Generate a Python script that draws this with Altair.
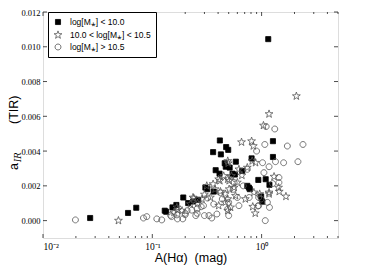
import altair as alt
import pandas as pd

# log[M*] < 10.0  (filled squares)
sq_x = [0.027, 0.060, 0.0713, 0.130, 0.134, 0.153, 0.166, 0.192, 0.213, 0.236, 0.263,
        0.306, 0.318, 0.365, 0.412, 0.36, 0.415, 0.424, 0.474, 0.495, 0.581, 0.47,
        0.542, 0.569, 0.81, 0.933, 1.18, 1.015, 0.765, 0.78, 1.27, 1.27, 1.15,
        0.46, 0.38, 0.51, 0.665, 0.74, 1.09, 0.99]
sq_y = [0.00015, 0.00044, 0.00074, 0.00057, 0.00051, 0.00076, 0.0009, 0.00133, 0.00101, 0.0011, 0.0012,
        0.0019, 0.00181, 0.00167, 0.0027, 0.00394, 0.00461, 0.00381, 0.00423, 0.00407, 0.00339, 0.0031,
        0.0027, 0.00265, 0.00358, 0.00234, 0.00206, 0.00109, 0.0019, 0.00181, 0.00457, 0.00366, 0.01044,
        0.0033, 0.0029, 0.00305, 0.00286, 0.0020, 0.00238, 0.00139]

# 10.0 < log[M*] < 10.5  (open stars)
st_x = [0.049, 2.08, 1.17, 1.04, 0.655, 0.81, 0.84, 0.495, 0.74, 1.30, 1.45, 1.43, 1.67,
        1.17, 0.83, 0.875, 0.96, 0.315, 0.236, 0.415, 0.49, 0.171, 0.187,
        0.375, 0.42, 0.465, 0.34, 0.285, 0.24, 0.45, 0.505, 0.405, 0.465, 0.405, 0.223,
        0.168, 0.158, 0.49, 0.82, 0.88, 0.62, 0.53, 0.60, 0.505, 0.577, 0.85, 1.17,
        0.49, 0.52, 0.49, 0.71, 0.30, 0.56, 0.66, 0.36, 0.26]
st_y = [0.0, 0.00716, 0.00613, 0.00547, 0.00451, 0.00457, 0.00429, 0.0033, 0.00305, 0.00253, 0.00167, 0.0019, 0.00139,
        0.00162, 0.0008, 0.00042, 0.00153, 0.002, 0.00133, 0.00229, 0.00238, 0.00063, 0.00057,
        0.00181, 0.00167, 0.00153, 0.00133, 0.00124, 0.00128, 0.00257, 0.00229, 0.00238, 0.00105, 0.00086, 0.00095,
        0.00076, 0.00047, 0.00343, 0.00343, 0.00333, 0.00295, 0.00257, 0.00219, 0.00181, 0.00143, 0.00162, 0.00153,
        0.00124, 0.00076, 0.00057, 0.00124, 0.0015, 0.0019, 0.0026, 0.0021, 0.0010]

# log[M*] > 10.5  (open circles)
ci_x = [0.0198, 0.083, 0.089, 0.110, 0.122, 0.147, 0.168, 0.170, 0.20, 1.10, 1.32, 1.07, 1.72,
        2.39, 0.90, 2.15, 1.34, 1.59, 1.02, 1.17, 1.26, 1.08, 1.18, 0.925, 0.99, 0.30, 0.33,
        0.35, 0.257, 0.20, 0.15, 0.19, 0.25, 0.208, 0.257, 0.294, 0.365, 0.437, 0.49, 0.39,
        0.50, 1.44, 1.44, 1.05, 0.74, 0.56, 0.68, 0.94, 1.13, 0.94, 0.60, 0.77, 0.50, 0.62,
        0.42, 0.55, 0.32, 0.28, 0.23]
ci_y = [0.00004, 0.00015, 0.00023, 0.0001, 0.00004, 0.0003, 0.00033, 0.0001, 0.00042, 0.00541, 0.00527, 0.00438, 0.00429,
        0.00438, 0.004, 0.00339, 0.00339, 0.00333, 0.00333, 0.0031, 0.00213, 0.0, 0.00076, 0.00084, 0.00124, 0.00029, 0.00029,
        0.00015, 0.00042, 0.00034, 0.00023, 0.0001, 0.00029, 0.00057, 0.00067, 0.00086, 0.00095, 0.00124, 0.00067, 0.00038,
        0.00029, 0.00248, 0.00219, 0.00276, 0.00295, 0.00219, 0.002, 0.00133, 0.00105, 0.00086, 0.00133, 0.00133, 0.00105, 0.00086,
        0.0016, 0.0018, 0.0013, 0.0008, 0.0006]

groups = ["log[M⁎] < 10.0", "10.0 < log[M⁎] < 10.5", "log[M⁎] > 10.5"]

x_major = [0.01, 0.1, 1]
x_minor = [0.02, 0.03, 0.04, 0.05, 0.06, 0.07, 0.08, 0.09,
           0.2, 0.3, 0.4, 0.5, 0.6, 0.7, 0.8, 0.9, 2, 3, 4, 5]
y_major = [0.0, 0.002, 0.004, 0.006, 0.008, 0.010, 0.012]

rows = []
for xs, ys, g in [(sq_x, sq_y, groups[0]), (st_x, st_y, groups[1]), (ci_x, ci_y, groups[2])]:
    for a, b in zip(xs, ys):
        rows.append({"A": a, "aIR": b, "grp": g})
df = pd.DataFrame(rows)

W, H = 295, 226
SQUARE = "M-0.62,-0.62H0.62V0.62H-0.62Z"
STAR = "M0,-1L0.235,-0.324L0.951,-0.309L0.380,0.124L0.588,0.809L0,0.4L-0.588,0.809L-0.380,0.124L-0.951,-0.309L-0.235,-0.324Z"
CIRCLE = "M0.72,0A0.72,0.72 0 1,1 -0.72,0A0.72,0.72 0 1,1 0.72,0Z"
SYM = 68

xscale = alt.Scale(type="log", domain=[0.01, 5], nice=False)
yscale = alt.Scale(domain=[-0.001, 0.012], nice=False)

lab_expr = "datum.value == 0.01 ? '10⁻²' : (datum.value == 0.1 ? '10⁻¹' : '10⁰')"

xaxis = alt.Axis(values=x_major, labelExpr=lab_expr, ticks=False, domain=False, grid=False,
                 labelFont="Liberation Serif", labelFontSize=9.5, labelColor="black", labelPadding=3,
                 title="A(Hα)\u00a0\u00a0(mag)", titleFont="Liberation Sans", titleFontSize=12.5,
                 titleFontWeight="normal", titleColor="black", titlePadding=1)
yaxis = alt.Axis(values=y_major, format=".3f", ticks=False, domain=False, grid=False,
                 labelOverlap=False,
                 labelFont="Liberation Serif", labelFontSize=8.5, labelColor="black", labelPadding=3,
                 title="")

leg = alt.Legend(title=None, orient="none", legendX=5, legendY=0,
                 strokeColor="black", fillColor="white", padding=5,
                 labelFont="Liberation Sans", labelFontSize=8.5, labelColor="black",
                 symbolSize=SYM, rowPadding=2, labelOffset=7, symbolStrokeWidth=0.8,
                 cornerRadius=0)

pts = alt.Chart(df).mark_point(strokeWidth=0.8, opacity=1, size=SYM).encode(
    x=alt.X("A:Q", scale=xscale, axis=xaxis),
    y=alt.Y("aIR:Q", scale=yscale, axis=yaxis),
    shape=alt.Shape("grp:N", scale=alt.Scale(domain=groups, range=[SQUARE, STAR, CIRCLE]), legend=leg),
    fill=alt.Fill("grp:N", scale=alt.Scale(domain=groups, range=["black", "transparent", "transparent"]),
                  legend=leg),
    stroke=alt.Stroke("grp:N", scale=alt.Scale(domain=groups, range=["black", "#555555", "#555555"]),
                      legend=leg),
)

def xt(vals, y0, y1):
    return alt.Chart(pd.DataFrame({"A": vals})).mark_rule(color="black", strokeWidth=0.7).encode(
        x=alt.X("A:Q", scale=xscale, axis=xaxis), y=alt.value(y0), y2=alt.value(y1))

def yt(vals, x0, x1):
    return alt.Chart(pd.DataFrame({"aIR": vals})).mark_rule(color="black", strokeWidth=0.7).encode(
        y=alt.Y("aIR:Q", scale=yscale, axis=yaxis), x=alt.value(x0), x2=alt.value(x1))

ticks = [xt(x_major, H, H - 4), xt(x_minor, H, H - 2), xt(x_major, 0, 4), xt(x_minor, 0, 2),
         yt(y_major, 0, 4), yt(y_major, W, W - 4)]

ytitle_a = alt.Chart(pd.DataFrame({"t": ["a"]})).mark_text(
    angle=270, align="left", baseline="alphabetic", font="Liberation Sans", fontSize=12.5, color="black"
).encode(text="t:N", x=alt.value(-25), y=alt.value(158))
ytitle_ir = alt.Chart(pd.DataFrame({"t": ["IR"]})).mark_text(
    angle=270, align="left", baseline="alphabetic", font="DejaVu Serif", fontStyle="italic", fontSize=8.5, color="black"
).encode(text="t:N", x=alt.value(-22.5), y=alt.value(150))
ytitle_t = alt.Chart(pd.DataFrame({"t": ["(TIR)"]})).mark_text(
    angle=270, align="left", baseline="alphabetic", font="Liberation Sans", fontSize=12.5, color="black"
).encode(text="t:N", x=alt.value(-25), y=alt.value(112))

chart = alt.layer(pts, *ticks, ytitle_a, ytitle_ir, ytitle_t).properties(
    width=W, height=H,
    autosize=alt.AutoSizeParams(type="none"),
    padding={"left": 35, "top": 4, "right": 20, "bottom": 32},
).configure_view(stroke="#333333", strokeWidth=1.3).configure(background="white")

chart.save("out.html", embed_options={"renderer": "svg", "actions": False})
